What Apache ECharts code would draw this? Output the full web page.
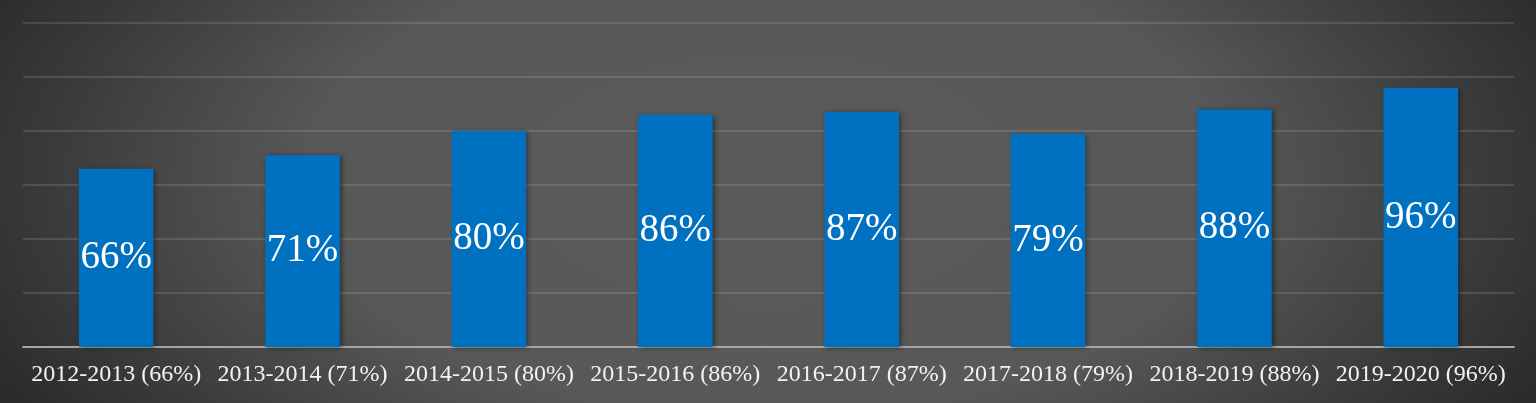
<!DOCTYPE html>
<html lang="en">
<head>
<meta charset="UTF-8">
<title>Percentage by year</title>
<style>
    html, body {
        margin: 0;
        padding: 0;
        width: 1536px;
        height: 403px;
        overflow: hidden;
    }
    body {
        /* dark vignette, lighter in the middle */
        background: radial-gradient(ellipse 62% 120% at 50% 45%, #5a5a5a 0%, #585858 48%, #3a3a3a 76%, #222222 100%);
    }
    #chart {
        width: 1536px;
        height: 403px;
    }
</style>
</head>
<body>
<script src="https://cdn.jsdelivr.net/npm/echarts/dist/echarts.min.js"></script>
<div id="chart"></div>
<script>
// data
var years = ['2012-2013', '2013-2014', '2014-2015', '2015-2016', '2016-2017', '2017-2018', '2018-2019', '2019-2020'];
var values = [66, 71, 80, 86, 87, 79, 88, 96];

var categories = years.map(function (y, i) {
    return y + ' (' + values[i] + '%)';
});

var myChart = echarts.init(document.getElementById('chart'));

var option = {
    backgroundColor: 'transparent',
    animation: false,
    grid: {
        left: 23,
        right: 22,
        top: 23,
        bottom: 56
    },
    xAxis: {
        type: 'category',
        data: categories,
        axisTick: { show: false },
        axisLine: { lineStyle: { color: '#a6a6a6', width: 2 } },
        axisLabel: {
            interval: 0,
            margin: 16,
            color: '#f2f2f2',
            fontFamily: 'Liberation Serif, serif',
            fontSize: 24
        }
    },
    yAxis: {
        type: 'value',
        min: 0,
        max: 120,
        interval: 20,
        axisLabel: { show: false },
        axisLine: { show: false },
        axisTick: { show: false },
        splitLine: { lineStyle: { color: 'rgba(255,255,255,0.12)', width: 2 } }
    },
    series: [{
        type: 'bar',
        data: values,
        barWidth: '40%',
        itemStyle: {
            color: '#0070c0',
            shadowColor: 'rgba(0,0,0,0.45)',
            shadowBlur: 5,
            shadowOffsetX: 2,
            shadowOffsetY: 1
        },
        label: {
            show: true,
            position: 'inside',
            formatter: '{c}%',
            color: '#ffffff',
            fontFamily: 'Liberation Serif, serif',
            fontSize: 39
        }
    }]
};

myChart.setOption(option);
</script>
</body>
</html>
